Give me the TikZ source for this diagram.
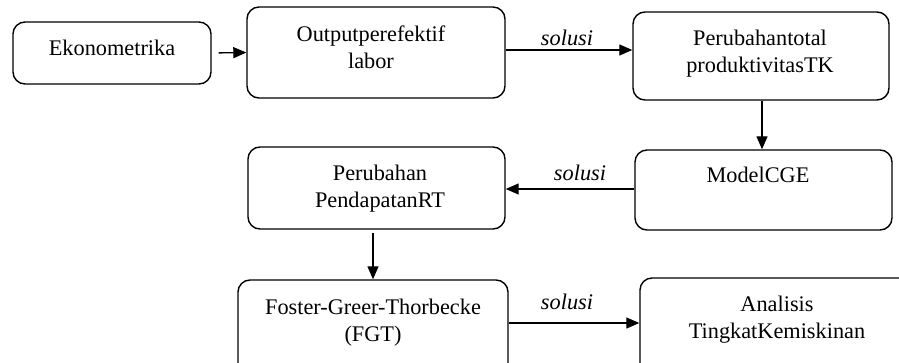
\documentclass[tikz,border=0pt]{standalone}
\usepackage{fontspec}
\setmainfont{Liberation Serif}
\usetikzlibrary{arrows.meta}
\begin{document}
\begin{tikzpicture}[x=1pt,y=-1pt,
  box/.style={draw, line width=1.4pt, rounded corners=12pt, inner sep=0pt},
  txt/.style={anchor=base, align=center, inner sep=0pt, font=\fontsize{22.3}{27}\selectfont},
  lbl/.style={font=\fontsize{22.3}{27}\selectfont\itshape, inner sep=0pt, anchor=base},
  arr/.style={line width=1.3pt, -{Triangle[length=13pt,width=11pt]}}]
\useasboundingbox (0,0) rectangle (899,362);
\clip (0,0) rectangle (899,362);
% boxes
\node[box, minimum width=198pt, minimum height=62pt] (eko) at (112,53) {};
\node[box, minimum width=258pt, minimum height=91pt] (out) at (376,52.5) {};
\node[box, minimum width=256pt, minimum height=88pt] (pt) at (761,56) {};
\node[box, minimum width=257pt, minimum height=82pt] (pen) at (376.5,188) {};
\node[box, minimum width=257pt, minimum height=80pt] (cge) at (763.5,190) {};
\node[box, minimum width=270pt, minimum height=95pt] (fgt) at (373,327.5) {};
\node[box, minimum width=275pt, minimum height=102pt] (ana) at (777.5,329) {};
% texts (anchor base = baseline of the last line)
\node[txt] (t1) at (112,55) {Ekonometrika};
\node[txt] (t2) at (371,68) {Outputperefektif\\labor};
\node[txt] (t3) at (760,72) {Perubahantotal\\produktivitasTK};
\node[txt] (t4) at (380,207) {Perubahan\\PendapatanRT};
\node[txt] (t5) at (758,182) {ModelCGE};
\node[txt] (t6) at (373,341) {Foster-Greer-Thorbecke\\(FGT)};
\node[txt] (t7) at (777,338) {Analisis\\TingkatKemiskinan};
% connectors
\draw[arr, shorten <=7pt] (eko.east) -- (out.west);
\draw[arr] ([yshift=2.5pt]out.east) -- ([yshift=2.5pt]out.east -| pt.west);
\draw[arr] (pt.south -| 762,0) -- (cge.north -| 762,0);
\draw[arr] ([yshift=1pt]cge.west) -- ([yshift=1pt]cge.west -| pen.east);
\draw[arr, shorten <=3pt] (pen.south -| fgt.north) -- (fgt.north);
\draw[arr] ([yshift=4.5pt]fgt.east) -- ([yshift=4.5pt]fgt.east -| ana.west);
% labels
\node[lbl] (s1) at (567,45) {solusi};
\node[lbl] (s2) at (580,180) {solusi};
\node[lbl] (s3) at (567,309) {solusi};
\end{tikzpicture}
\end{document}
